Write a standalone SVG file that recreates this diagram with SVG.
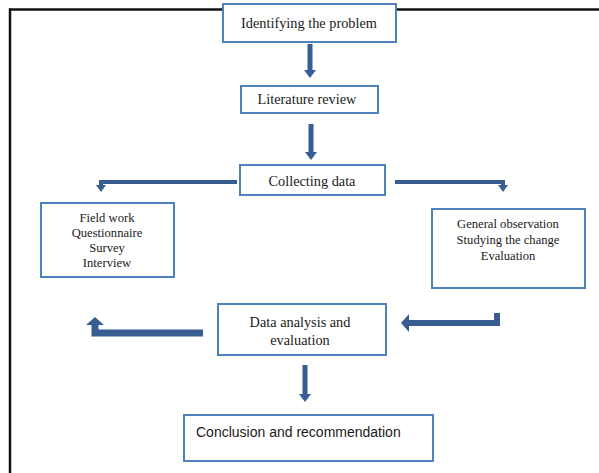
<svg xmlns="http://www.w3.org/2000/svg" width="599" height="473" viewBox="0 0 599 473">
<style>
.box{fill:#fff;stroke:#4f81bd;stroke-width:2}
.t{font-family:"Liberation Serif","Times New Roman",serif;font-size:14.3px;fill:#1a1a1a;text-anchor:middle}
.l{font-family:"Liberation Serif","Times New Roman",serif;font-size:12.6px;fill:#1a1a1a;text-anchor:middle}
.s{font-family:"Liberation Sans",Arial,sans-serif;font-size:14px;fill:#1a1a1a}
.ar{fill:none;stroke:#375d92;stroke-linejoin:miter}
</style>
<defs>
<marker id="ah" viewBox="0 0 8 12" refX="0" refY="6" markerWidth="8" markerHeight="12" markerUnits="userSpaceOnUse" orient="auto">
<path d="M0 0 L8 6 L0 12 z" fill="#375d92"/>
</marker>
<marker id="ahs" viewBox="0 0 7 10" refX="0" refY="5" markerWidth="7" markerHeight="10" markerUnits="userSpaceOnUse" orient="auto">
<path d="M0 0 L7 5 L0 10 z" fill="#375d92"/>
</marker>
<marker id="ahb" viewBox="0 0 8 18" refX="0" refY="9" markerWidth="8" markerHeight="18" markerUnits="userSpaceOnUse" orient="auto">
<path d="M0 0 L8 9 L0 18 z" fill="#375d92"/>
</marker>
</defs>
<rect width="599" height="473" fill="#fff"/>
<g id="frame">
<line x1="9" y1="9.5" x2="599" y2="9.5" stroke="#111" stroke-width="2.5"/>
<line x1="10" y1="8.5" x2="10" y2="473" stroke="#111" stroke-width="2.5"/>
</g>
<g id="connectors">
<path class="ar" d="M310 44 V70" stroke-width="5" marker-end="url(#ah)"/>
<path class="ar" d="M311 124 V152" stroke-width="5" marker-end="url(#ah)"/>
<path class="ar" d="M237 182 H101 V185" stroke-width="4" marker-end="url(#ahs)"/>
<path class="ar" d="M395 182 H503 V185" stroke-width="4" marker-end="url(#ahs)"/>
<path class="ar" d="M497 313 V323 H409" stroke-width="6" marker-end="url(#ahb)"/>
<path class="ar" d="M203 333 H95 V325" stroke-width="7" marker-end="url(#ahb)"/>
<path class="ar" d="M305 365 V394" stroke-width="5" marker-end="url(#ah)"/>
</g>
<g id="identify">
<rect class="box" x="223" y="4" width="173" height="38"/>
<text class="t" x="309" y="28">Identifying the problem</text>
</g>
<g id="literature">
<rect class="box" x="241" y="86" width="137" height="27"/>
<text class="t" x="307" y="104">Literature review</text>
</g>
<g id="collecting">
<rect class="box" x="240" y="165" width="145" height="30"/>
<text class="t" x="312" y="186">Collecting data</text>
</g>
<g id="fieldwork">
<rect class="box" x="41" y="203" width="133" height="74"/>
<text class="l" x="107" y="222">Field work</text>
<text class="l" x="107" y="237">Questionnaire</text>
<text class="l" x="107" y="252">Survey</text>
<text class="l" x="107" y="267">Interview</text>
</g>
<g id="observation">
<rect class="box" x="432" y="209" width="153" height="79"/>
<text class="l" x="508" y="228">General observation</text>
<text class="l" x="508" y="244">Studying the change</text>
<text class="l" x="508" y="260">Evaluation</text>
</g>
<g id="analysis">
<rect class="box" x="218" y="304" width="168" height="51"/>
<text class="t" x="300" y="327">Data analysis and</text>
<text class="t" x="300" y="345">evaluation</text>
</g>
<g id="conclusion">
<rect class="box" x="184" y="415" width="249" height="46"/>
<text class="s" x="196" y="437">Conclusion and recommendation</text>
</g>
</svg>
